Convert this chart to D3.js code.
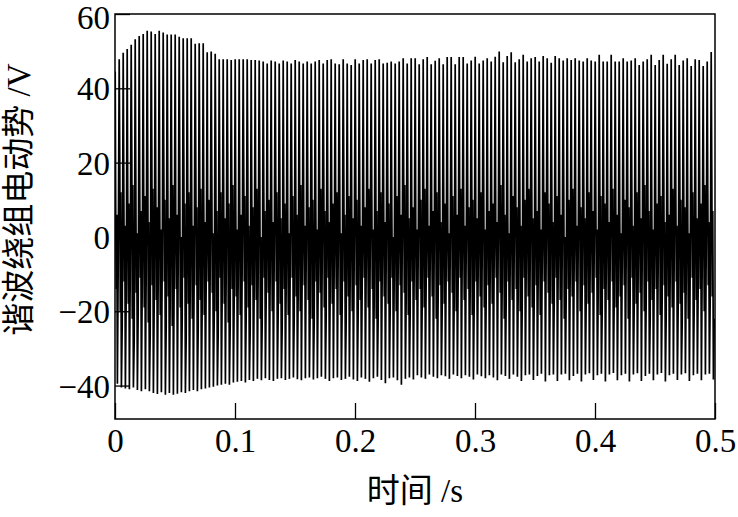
<!DOCTYPE html>
<html><head><meta charset="utf-8">
<script src="https://cdn.jsdelivr.net/npm/d3@7"></script>
<style>
html,body{margin:0;padding:0;background:#fff;}
svg{display:block;}
text{font-family:"Liberation Serif","Noto Sans CJK SC",serif;fill:#000;}
</style></head>
<body>
<svg id="chart" width="738" height="517"></svg>
<script>
// ---- data ----
const xTicks = [0, 0.1, 0.2, 0.3, 0.4, 0.5];
const yTicks = [-40, -20, 0, 20, 40, 60];
const xLabel = "时间 /s";
const yLabel = "谐波绕组电动势 /V";
const cycles = 150;          // number of oscillation cycles in 0..0.5 s
const period = 0.5 / cycles; // s
const startValue = 0;

// positive peak of each cycle (V)
const peakMax = [
44.5,47.8,49.6,50.6,51.7,53.2,54.1,54.6,55.5,55.3,54.6,55.5,55.0,54.5,54.5,54.5,53.9,53.5,53.5,53.5,
52.0,52.1,52.1,49.7,49.9,49.3,47.8,47.8,
47.8,47.6,47.8,47.8,47.8,47.8,47.6,47.6,47.5,47.2,46.7,47.5,47.2,46.7,47.5,47.2,46.7,47.6,47.2,46.7,
47.2,46.7,47.2,47.6,46.7,47.6,47.8,46.7,46.5,47.8,46.7,46.3,47.8,46.7,47.6,47.8,46.7,47.6,47.8,46.7,
46.9,47.2,46.7,47.2,48.1,46.7,48.1,
48.1,46.5,47.8,48.4,46.5,47.4,48.1,46.5,48.4,48.4,46.5,48.4,48.4,46.7,47.5,48.5,46.7,47.5,48.1,47.2,
48.5,49.9,47.0,48.7,49.7,47.0,47.8,49.0,47.2,48.1,48.4,47.2,48.7,48.1,46.9,48.7,48.1,47.5,48.1,47.6,
48.1,47.5,47.2,48.1,47.5,47.2,49.0,47.2,47.2,49.0,47.2,47.2,48.1,47.2,47.5,48.1,46.3,47.2,47.8,49.0,
46.3,47.6,49.0,46.6,47.8,49.0,46.3,47.5,48.1,46.0,47.8,47.6,46.0,47.2,49.8
];
// negative peak of each cycle (V)
const peakMin = [
-39.5,-40.5,-40.8,-41.0,-40.5,-41.2,-41.5,-41.0,-41.5,-42.0,-42.3,-41.8,-42.5,-42.0,-42.5,-42.2,-41.8,-42.0,-41.5,-41.2,
-41.5,-41.0,-40.8,-40.5,-40.3,-40.0,-39.8,-39.5,-39.8,-39.2,-39.0,
-38.8,-39.2,-38.5,-38.8,-38.2,-38.6,-38.0,-38.5,-38.8,-38.2,-38.0,-38.5,-38.2,-37.8,-38.3,-38.6,-38.0,-37.8,-38.4,-38.0,
-37.6,-38.2,-38.8,-38.0,-37.8,-38.5,-38.2,-37.6,-38.4,-38.8,-37.8,-38.2,-39.0,-38.0,-37.6,-38.5,-39.4,-38.0,-37.8,-38.6,
-39.8,-38.2,-37.8,-38.4,
-37.2,-37.8,-38.2,-37.0,-37.6,-38.0,-37.2,-37.5,-38.2,-37.0,-37.4,-38.0,-37.2,-37.6,-38.4,-37.0,-37.5,-38.0,-37.2,-37.8,
-38.6,-37.0,-37.4,-38.2,-37.0,-37.6,-38.8,-37.2,-37.0,-38.5,-37.4,-36.8,-38.9,-37.2,-37.0,-38.8,-37.0,-36.8,-38.6,-37.4,
-36.8,-38.9,-37.0,-36.7,-38.5,-37.2,-36.8,-38.9,-37.0,-36.6,-38.6,-37.2,-36.8,-38.9,-37.0,-36.7,-38.8,-37.4,-36.8,-38.6,
-37.0,-36.6,-38.9,-37.2,-36.8,-38.5,-37.0,-36.7,-38.8,-37.2,-36.8,-38.6,-37.0,-36.8,-38.4
];
// level reached after the positive spike (V)
const upperMid = [
2,20,14,8,22,16,10,4,18,24,12,6,20,15,9,3,17,22,11,5,
19,14,8,2,16,21,12,6,18,13,7,3,15,20,10,5,17,12,6,2,
14,19,9,4,16,11,5,2,13,18,8,3,15,10,4,1,12,17,7,3,
14,9,4,2,11,16,6,3,13,8,3,1,10,15,6,2,12,7,3,1,
9,14,5,2,11,7,3,1,8,13,5,2,10,6,2,1,8,12,4,2,
10,15,6,3,12,8,3,2,9,14,5,2,11,7,3,1,9,13,5,2,
11,16,7,3,12,8,4,2,10,15,6,3,12,17,8,3,11,16,7,3,
13,18,9,4,14,10,5,2,12,17
];
// dip in the middle of each cycle (V)
const midDip = [
-14,-20,-12,-18,-22,-15,-11,-19,-23,-13,-17,-21,-12,-16,-24,-14,-19,-11,-18,-22,
-13,-17,-21,-12,-15,-20,-11,-18,-23,-14,-16,-21,-12,-19,-13,-17,-22,-11,-15,-20,
-12,-18,-14,-21,-11,-16,-20,-13,-17,-22,-12,-15,-19,-11,-18,-14,-21,-12,-16,-20,
-13,-17,-11,-19,-14,-22,-12,-16,-18,-11,-20,-13,-15,-21,-12,-17,-14,-19,-11,-16,
-22,-13,-18,-12,-15,-20,-11,-17,-14,-21,-12,-16,-19,-13,-18,-11,-15,-22,-12,-17,
-14,-20,-11,-16,-19,-13,-21,-12,-15,-18,-11,-17,-22,-14,-16,-12,-20,-13,-18,-15,
-11,-21,-14,-17,-12,-19,-16,-13,-22,-11,-18,-15,-20,-12,-17,-14,-21,-13,-16,-19,
-12,-18,-15,-22,-11,-17,-14,-20,-13,-16
];
// rebound after the dip (V)
const midRise = [
6,12,3,9,14,1,7,11,4,13,8,2,10,5,14,6,0,9,12,3,
8,13,4,10,1,7,12,5,9,14,2,6,11,3,8,13,0,7,10,4,
12,5,9,1,11,6,14,3,8,10,2,13,7,4,9,12,1,6,11,5,
10,3,8,13,2,7,12,4,9,0,11,6,14,5,8,2,10,13,3,7,
12,4,9,1,11,6,13,3,8,10,5,12,2,7,9,4,14,6,1,11,
8,3,10,13,5,7,2,12,9,4,11,6,0,10,13,3,8,5,12,7,
2,11,9,4,13,6,1,10,8,3,12,5,14,7,2,9,11,4,6,13,
3,10,8,1,12,5,9,14,4,7
];
// level reached after the negative spike (V)
const lowerMid = [
-8,-24,-16,-12,-28,-20,-14,-10,-26,-18,-12,-8,-24,-17,-11,-7,-22,-27,-15,-9,
-25,-18,-12,-8,-22,-26,-15,-10,-24,-17,-11,-7,-21,-25,-14,-9,-23,-16,-10,-6,
-20,-24,-13,-8,-22,-15,-9,-6,-19,-23,-12,-7,-21,-14,-8,-5,-18,-22,-11,-6,
-20,-13,-8,-5,-17,-21,-10,-6,-19,-12,-7,-4,-16,-20,-9,-5,-18,-11,-6,-4,
-15,-19,-8,-5,-17,-10,-6,-4,-14,-18,-8,-5,-16,-10,-5,-3,-13,-17,-7,-4,
-15,-19,-9,-6,-17,-11,-7,-4,-14,-18,-8,-5,-16,-10,-6,-3,-13,-17,-7,-4,
-15,-20,-10,-6,-17,-12,-7,-5,-15,-19,-9,-6,-17,-22,-11,-7,-16,-21,-10,-6,
-18,-23,-12,-8,-19,-13,-8,-5,-17,-22
];

// ---- build the sample sequence ----
const samples = [{t: 0, v: startValue}];
for (let k = 0; k < cycles; k++) {
  samples.push({t: (k + 0.05) * period, v: peakMax[k]});
  samples.push({t: (k + 0.20) * period, v: upperMid[k]});
  samples.push({t: (k + 0.32) * period, v: midDip[k]});
  samples.push({t: (k + 0.44) * period, v: midRise[k]});
  samples.push({t: (k + 0.60) * period, v: peakMin[k]});
  samples.push({t: (k + 0.80) * period, v: lowerMid[k]});
}

// ---- chart ----
const svg = d3.select("#chart");
const L = 115, R = 715, T = 14, B = 419;
const x = d3.scaleLinear().domain([0, 0.5]).range([L, R]);
const y = d3.scaleLinear().domain([-49, 60]).range([B, T]);

svg.append("clipPath").attr("id", "clip")
  .append("rect").attr("x", L).attr("y", T).attr("width", R - L).attr("height", B - T);

svg.append("path")
  .datum(samples)
  .attr("clip-path", "url(#clip)")
  .attr("fill", "none")
  .attr("stroke", "#000")
  .attr("stroke-width", 1.7)
  .attr("stroke-linejoin", "miter")
  .attr("d", d3.line().defined(d => Number.isFinite(d.v)).x(d => x(d.t)).y(d => y(d.v)));

// frame
svg.append("rect").attr("x", L).attr("y", T).attr("width", R - L).attr("height", B - T)
  .attr("fill", "none").attr("stroke", "#000").attr("stroke-width", 1.5);

// axes (ticks inside)
const fmtX = d => d === 0 ? "0" : d3.format(".1f")(d);
const xAxis = d3.axisBottom(x).tickValues(xTicks).tickSize(-16).tickPadding(10).tickFormat(fmtX);
const yAxis = d3.axisLeft(y).tickValues(yTicks).tickSize(-15).tickPadding(5)
  .tickFormat(d => d < 0 ? "\u2212" + Math.abs(d) : String(d));

const gx = svg.append("g").attr("transform", `translate(0,${B})`).call(xAxis);
const gy = svg.append("g").attr("transform", `translate(${L},0)`).call(yAxis);
[gx, gy].forEach(g => {
  g.select(".domain").remove();
  g.selectAll(".tick line").attr("stroke", "#000").attr("stroke-width", 1.3);
  g.selectAll(".tick text").attr("fill", "#000")
    .style("font-family", "'Liberation Serif', serif").style("font-size", "33px");
});
gx.selectAll(".tick text").attr("dy", "0.71em");
gy.selectAll(".tick text").attr("dy", "0.35em");
gy.selectAll(".tick").filter(d => d === 60).select("text").attr("dy", "0.45em");

svg.append("text").attr("x", (L + R) / 2).attr("y", 502)
  .attr("text-anchor", "middle").style("font-size", "33px").text(xLabel);

svg.append("text").attr("transform", `translate(30,${(T + B) / 2 - 17}) rotate(-90)`)
  .attr("text-anchor", "middle").style("font-size", "33px").text(yLabel);
</script>
</body></html>
